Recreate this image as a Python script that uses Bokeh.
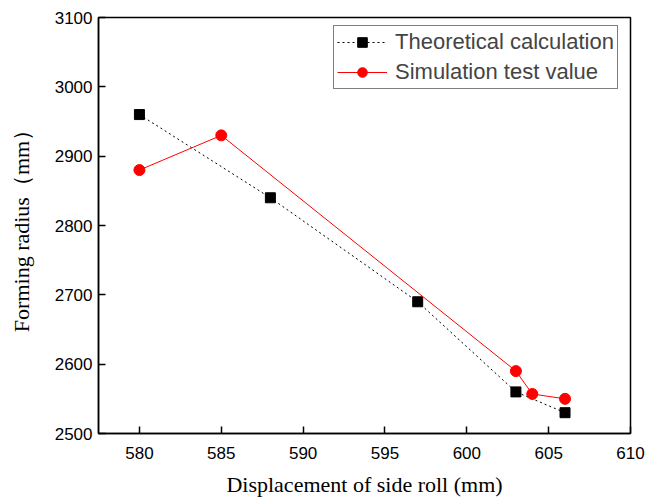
from bokeh.plotting import figure
from bokeh.models import Legend, LegendItem, FixedTicker
from bokeh.embed import file_html
from bokeh.resources import INLINE

theo_x = [580, 588, 597, 603, 606]
theo_y = [2960, 2840, 2690, 2560, 2530]
sim_x = [580, 585, 603, 604, 606]
sim_y = [2880, 2930, 2590, 2557, 2550]
x_ticks = [580, 585, 590, 595, 600, 605, 610]
y_ticks = [2500, 2600, 2700, 2800, 2900, 3000, 3100]

p = figure(width=656, height=499, x_range=(577.5, 610), y_range=(2500, 3100),
           output_backend="svg", toolbar_location=None,
           min_border_left=98, min_border_right=26, min_border_top=17, min_border_bottom=63)
p.background_fill_color = "white"
p.border_fill_color = "white"
p.grid.visible = False
p.outline_line_color = "black"
p.outline_line_width = 1.5

for ax in (p.xaxis[0], p.yaxis[0]):
    ax.axis_line_width = 1.5
    ax.major_tick_line_width = 1.5
    ax.major_tick_in = 7
    ax.major_tick_out = 0
    ax.minor_tick_line_color = None
    ax.major_label_text_font = "Liberation Sans"
    ax.major_label_text_font_size = "17px"
    ax.major_label_text_color = "black"
    ax.axis_label_text_font = "Liberation Serif"
    ax.axis_label_text_font_size = "22px"
    ax.axis_label_text_font_style = "normal"
    ax.axis_label_text_color = "black"

p.xaxis.ticker = FixedTicker(ticks=x_ticks)
p.yaxis.ticker = FixedTicker(ticks=y_ticks)
p.xaxis.axis_label = "Displacement of side roll (mm)"
p.yaxis.axis_label = "Forming radius（mm）"
p.xaxis.major_label_standoff = 13
p.yaxis.major_label_standoff = 6
p.xaxis.axis_label_standoff = 10
p.yaxis.axis_label_standoff = 18

l1 = p.line(theo_x, theo_y, line_color="black", line_width=1, line_dash="2 3")
m1 = p.scatter(theo_x, theo_y, marker="square", size=10, fill_color="black", line_color="black")
l2 = p.line(sim_x, sim_y, line_color="red", line_width=1)
m2 = p.scatter(sim_x, sim_y, marker="circle", size=11, fill_color="red", line_color="red")

legend = Legend(items=[LegendItem(label="Theoretical calculation", renderers=[l1, m1]),
                       LegendItem(label="Simulation test value", renderers=[l2, m2])],
                location="top_right")
legend.border_line_color = "black"
legend.border_line_width = 1
legend.label_text_font = "Liberation Sans"
legend.label_text_font_size = "22px"
legend.glyph_width = 50
legend.glyph_height = 24
legend.label_height = 24
legend.spacing = 4
legend.padding = 3
legend.margin = 0
legend.label_standoff = 8
legend.background_fill_alpha = 1
p.add_layout(legend, "center")
legend.location = (235, 344)

open("out.html", "w").write(file_html(p, INLINE))
